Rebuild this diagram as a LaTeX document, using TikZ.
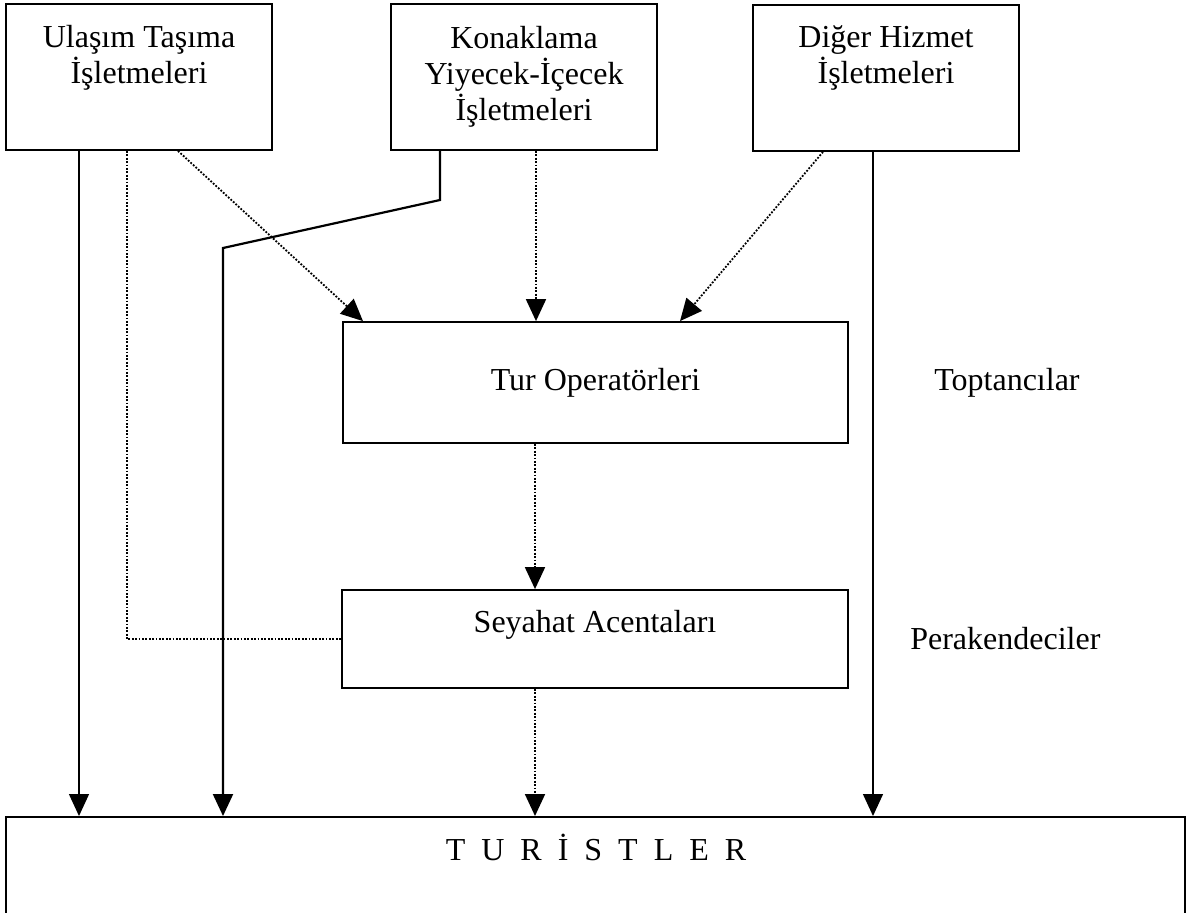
\documentclass[tikz,border=0pt]{standalone}
\usepackage{fontspec}
\setmainfont{Liberation Serif}
\usetikzlibrary{arrows.meta,positioning}

\tikzset{
  kutu/.style={draw, line width=0.9pt, align=center, inner sep=0pt},
  ustkutu/.style={kutu, minimum width=133pt, minimum height=73pt},
  duz/.style={line width=0.7pt, -{Triangle[length=11pt,width=10pt]}},
  noktali/.style={line width=0.9pt, dash pattern=on 0.9pt off 0.8pt, -{Triangle[length=11pt,width=10pt]}},
}

\begin{document}
\begin{tikzpicture}[x=0.5pt,y=-0.5pt,font=\fontsize{16pt}{18pt}\selectfont]
	\useasboundingbox (0,0) rectangle (1189,912);
	\clip (0,0) rectangle (1189,912);

	% ust kutular
	\node[ustkutu] (ulasim) at (139,77) {Ulaşım Taşıma\\İşletmeleri\\[5pt]\mbox{}};
	\node[ustkutu] (konak) at (524,77) {Konaklama\\Yiyecek-İçecek\\İşletmeleri};
	\node[ustkutu] (diger) at (886,78) {Diğer Hizmet\\İşletmeleri\\[5pt]\mbox{}};

	% aracilar
	\node[kutu, minimum width=252.5pt, minimum height=60.5pt] (tur) at (595.5,382.5) {Tur Operatörleri};
	\node[kutu, minimum width=253pt, minimum height=49pt] (seyahat) at (595,639) {Seyahat Acentaları\\\mbox{}};
	\node[right=42.5pt of tur, inner sep=0pt] (toptan) {Toptancılar};
	\node[right=30.5pt of seyahat, inner sep=0pt] (perak) {Perakendeciler};

	% turistler
	\node[kutu, minimum width=589.5pt, minimum height=70pt, anchor=north] (turist) at (595.5,816) {};
	\node (turistyazi) at (596,847) {T\enspace U\enspace R\enspace İ\enspace S\enspace T\enspace L\enspace E\enspace R};

	\coordinate (kirik1) at (440,200);
	\coordinate (kirik2) at (223,248);

	\draw[duz] (ulasim.south -| 79,0) -- (turist.north -| 79,0);
	\draw[noktali, -] (ulasim.south -| 127,0) |- (seyahat.west);
	\draw[noktali] (ulasim.south -| 178,0) -- (tur.north -| 363,0);
	\draw[duz, line width=1.1pt] (konak.south -| kirik1) -- (kirik1) -- (kirik2) -- (turist.north -| kirik2);
	\draw[noktali] (konak.south -| 536,0) -- (tur.north -| 536,0);
	\draw[noktali] (diger.south -| 823,0) -- (tur.north -| 680,0);
	\draw[duz] (diger.south -| 873,0) -- (turist.north -| 873,0);
	\draw[noktali] (tur.south -| 535,0) -- (seyahat.north -| 535,0);
	\draw[noktali] (seyahat.south -| 535,0) -- (turist.north -| 535,0);
\end{tikzpicture}
\end{document}
